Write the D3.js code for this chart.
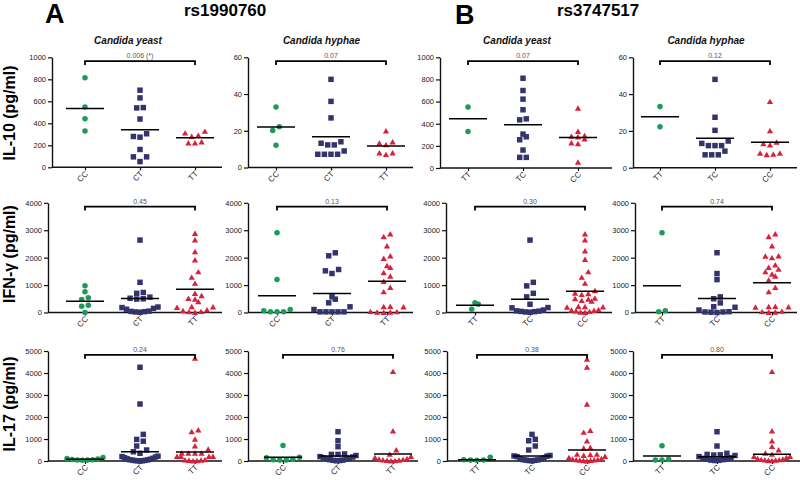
<!DOCTYPE html>
<html><head><meta charset="utf-8">
<script src="https://cdn.jsdelivr.net/npm/d3@7"></script>
<style>body{margin:0;background:#fff}svg{display:block;font-family:"Liberation Sans",Arial,sans-serif}</style>
</head><body><svg id="c" width="800" height="480"></svg>
<script>
// ---------- categories ----------
const genotypesA = ["CC", "CT", "TT"];   // rs1990760
const genotypesB = ["TT", "TC", "CC"];   // rs3747517
const stimuli = ["Candida yeast", "Candida hyphae"];
const cytokines = ["IL-10 (pg/ml)", "IFN-\u03b3 (pg/ml)", "IL-17 (pg/ml)"];
const pValues = ["0.006 (*)", "0.07", "0.07", "0.12", "0.45", "0.13", "0.30", "0.74", "0.24", "0.76", "0.38", "0.80"];
const il10Ticks = [0, 200, 400, 600, 800, 1000];
const il10HyTicks = [0, 20, 40, 60];
const ifnTicks = [0, 1000, 2000, 3000, 4000];
const il17Ticks = [0, 1000, 2000, 3000, 4000, 5000];

// ---------- values (per genotype group) ----------
const il10YeastA = [[814, 549, 442, 329], [701, 631, 540, 543, 439, 305, 274, 280, 162, 95, 95, 52], [326, 290, 280, 310, 220, 220, 230]];
const il10YeastAMean = [534, 341, 268];
const il10HyphaeA = [[33, 22.2, 20.2, 12.1], [48, 36, 27, 14, 12.3, 12.3, 13.2, 9, 7.2, 7.2, 7.2, 7.2], [19.8, 13.2, 12.3, 13.9, 7.9, 7, 7.9]];
const il10HyphaeAMean = [22, 16.8, 11.7];
const il10YeastB = [[550, 330], [811, 700, 622, 526, 444, 435, 306, 282, 255, 162, 96, 96], [540, 330, 279, 285, 291, 261, 225, 219, 51]];
const il10YeastBMean = [444, 390, 276];
const il10HyphaeB = [[33.2, 22.3], [48, 27.4, 20.3, 13.2, 12, 12, 12, 14.5, 9, 7, 7, 7], [35.9, 20, 13, 12.3, 13.8, 7.8, 7, 7.2, 7.8]];
const il10HyphaeBMean = [27.7, 16, 13.8];

const ifnYeastA = [[973, 754, 535, 474, 267, 231, 0],
  [2640, 1100, 730, 700, 560, 500, 490, 520, 180, 150, 200, 120, 30, 20, 40, 10, 50],
  [2880, 2640, 2210, 1910, 1480, 1280, 1060, 690, 610, 510, 480, 390, 210, 200, 180, 90, 60, 30, 20, 0]];
const ifnYeastAMean = [413, 510, 851];
const ifnHyphaeA = [[2906, 1204, 109, 24, 24, 24, 61],
  [2176, 2067, 1568, 1520, 1422, 571, 486, 353, 207, 109, 24, 24, 24, 24, 24],
  [2860, 2760, 2420, 2060, 1970, 1700, 1640, 1450, 1320, 1130, 910, 750, 210, 220, 200, 30, 20, 10, 0, 10]];
const ifnHyphaeAMean = [608, 693, 1143];
const ifnYeastB = [[353, 304, 122],
  [2640, 1100, 970, 700, 570, 300, 180, 170, 90, 60, 50, 40, 30, 20, 10],
  [2860, 2640, 2240, 1930, 1480, 1280, 1060, 790, 700, 680, 650, 520, 500, 480, 430, 410, 220, 210, 200, 190, 100, 80, 70, 50, 30, 10, 0]];
const ifnYeastBMean = [267, 486, 778];
const ifnHyphaeB = [[2906, 24, 61],
  [2180, 1420, 1200, 500, 570, 350, 210, 190, 90, 30, 20, 20, 10, 0],
  [2860, 2760, 2420, 2060, 1990, 2050, 1730, 1640, 1570, 1480, 1390, 1320, 1180, 910, 750, 210, 200, 220, 190, 40, 20, 10, 0]];
const ifnHyphaeBMean = [973, 510, 1082];

const il17YeastA = [[160, 110, 90, 70, 50, 40, 30, 60],
  [4260, 2590, 1210, 980, 900, 680, 500, 420, 350, 220, 200, 180, 150, 120, 100, 80, 60, 50, 40, 30, 20, 10, 10, 0],
  [4670, 1410, 1330, 985, 680, 530, 350, 350, 350, 350, 200, 200, 200, 200, 50, 40, 30, 20, 10, 0]];
const il17YeastAMean = [76, 424, 409];
const il17HyphaeA = [[700, 170, 150, 80, 60, 50, 40],
  [1330, 920, 650, 300, 300, 320, 250, 200, 180, 150, 120, 100, 80, 60, 40, 30, 20, 10],
  [4060, 1360, 500, 300, 200, 150, 100, 80, 60, 40, 30, 20, 10, 0]];
const il17HyphaeAMean = [167, 227, 318];
const il17YeastB = [[170, 50, 40, 30, 60],
  [1210, 985, 920, 680, 500, 250, 230, 220, 200, 150, 100, 80, 60, 50, 40, 30, 20, 10],
  [4620, 4260, 2580, 1380, 1300, 910, 580, 610, 300, 300, 280, 250, 200, 150, 100, 80, 60, 50, 40, 30, 20, 10, 0]];
const il17YeastBMean = [60, 227, 500];
const il17HyphaeB = [[697, 76, 45, 45],
  [1330, 680, 350, 300, 280, 270, 250, 200, 150, 120, 100, 80, 60, 40, 30, 20],
  [4060, 1360, 910, 650, 500, 350, 300, 200, 200, 150, 100, 80, 60, 50, 40, 30, 20, 10]];
const il17HyphaeBMean = [227, 197, 303];

// ---------- panel table ----------
const panelData = [
  [il10YeastA, il10YeastAMean, genotypesA, il10Ticks],
  [il10HyphaeA, il10HyphaeAMean, genotypesA, il10HyTicks],
  [il10YeastB, il10YeastBMean, genotypesB, il10Ticks],
  [il10HyphaeB, il10HyphaeBMean, genotypesB, il10HyTicks],
  [ifnYeastA, ifnYeastAMean, genotypesA, ifnTicks],
  [ifnHyphaeA, ifnHyphaeAMean, genotypesA, ifnTicks],
  [ifnYeastB, ifnYeastBMean, genotypesB, ifnTicks],
  [ifnHyphaeB, ifnHyphaeBMean, genotypesB, ifnTicks],
  [il17YeastA, il17YeastAMean, genotypesA, il17Ticks],
  [il17HyphaeA, il17HyphaeAMean, genotypesA, il17Ticks],
  [il17YeastB, il17YeastBMean, genotypesB, il17Ticks],
  [il17HyphaeB, il17HyphaeBMean, genotypesB, il17Ticks]
];

// ---------- layout (pixels) ----------
const layout = [
  {ax: 52, end: 222, c0: 85, top: 57.3, bot: 167.3},
  {ax: 248, end: 413, c0: 276, top: 57.3, bot: 167.5},
  {ax: 440, end: 612, c0: 468, top: 57.3, bot: 168},
  {ax: 633, end: 797, c0: 660, top: 57.3, bot: 167.7},
  {ax: 48, end: 222, c0: 85, top: 202.8, bot: 312.5},
  {ax: 248, end: 413, c0: 277, top: 202.8, bot: 312.5},
  {ax: 446, end: 612, c0: 475, top: 202.8, bot: 312.5},
  {ax: 635, end: 797, c0: 662, top: 202.8, bot: 312.5},
  {ax: 48, end: 222, c0: 85, top: 351, bot: 461},
  {ax: 248, end: 418, c0: 283, top: 351, bot: 461},
  {ax: 447, end: 605, c0: 477, top: 351, bot: 461},
  {ax: 633, end: 800, c0: 662, top: 351, bot: 461}
];
const colors = ["#1b9a5a", "#33336e", "#d7223c"];
const shapes = [d3.symbolCircle, d3.symbolSquare, d3.symbolTriangle];
const shapeSize = [24, 30, 17];

const svg = d3.select("#c");

// simple deterministic "column scatter" spreading of overlapping points
function swarm(values, y) {
  const pts = values.map(v => ({v, py: y(v)})).sort((a, b) => b.py - a.py);
  const groups = [];
  let g = null;
  for (const p of pts) {
    if (g && Math.abs(p.py - g[0].py) < 5.5) g.push(p);
    else { g = [p]; groups.push(g); }
  }
  groups.forEach(gr => {
    const n = gr.length;
    const sp = n > 1 ? Math.min(6.6, 36 / (n - 1)) : 0;
    // slot positions left-to-right, filled from the centre outwards
    const slots = d3.range(n).map(i => (i - (n - 1) / 2) * sp)
      .sort((a, b) => Math.abs(a) - Math.abs(b) || a - b);
    gr.forEach((p, i) => { p.dx = slots[i]; });
  });
  return pts;
}

panelData.forEach(([groups, means, cats, ticks], k) => {
  const L = layout[k];
  const x = d3.scalePoint().domain(cats).range([L.c0, L.c0 + 110]);
  const y = d3.scaleLinear().domain([0, d3.max(ticks)]).range([L.bot, L.top]);
  const g = svg.append("g");

  // y axis
  const ya = g.append("g").attr("transform", `translate(${L.ax},0)`)
    .call(d3.axisLeft(y).tickValues(ticks).tickSize(4).tickSizeOuter(0).tickPadding(2).tickFormat(d3.format("d")));
  ya.select(".domain").attr("stroke", "#111").attr("stroke-width", 1.4);
  ya.selectAll(".tick line").attr("stroke", "#111").attr("stroke-width", 1.2);
  ya.selectAll(".tick text").attr("font-size", 7.5).attr("fill", "#222").attr("font-family", "Liberation Sans, Arial");

  // x axis
  g.append("line").attr("x1", L.ax).attr("x2", L.end).attr("y1", L.bot).attr("y2", L.bot)
    .attr("stroke", "#111").attr("stroke-width", 1.4);
  const xa = g.append("g").attr("transform", `translate(0,${L.bot})`)
    .call(d3.axisBottom(x).tickSize(3).tickSizeOuter(0));
  xa.select(".domain").remove();
  xa.selectAll(".tick line").attr("stroke", "#111").attr("stroke-width", 1.2);
  xa.selectAll(".tick text").attr("font-size", 8).attr("fill", "#222")
    .attr("font-family", "Liberation Sans, Arial")
    .attr("text-anchor", "end").attr("dy", 0).attr("y", 0)
    .attr("transform", "translate(3,7) rotate(-45)");

  // points
  groups.forEach((vals, gi) => {
    const cx = x(cats[gi]);
    const pts = swarm(vals, y);
    g.selectAll(null).data(pts).enter().append("path")
      .attr("d", d3.symbol().type(shapes[gi]).size(shapeSize[gi]))
      .attr("transform", d => `translate(${cx + d.dx},${d.py + (gi === 2 ? 0.6 : 0)})`)
      .attr("fill", colors[gi]);
    g.append("line").attr("x1", cx - 19).attr("x2", cx + 19)
      .attr("y1", y(means[gi])).attr("y2", y(means[gi]))
      .attr("stroke", "#000").attr("stroke-width", 1.5);
  });

  // bracket
  const by = L.top + 3.8;
  const x0 = x(cats[0]), x2 = x(cats[2]);
  g.append("path").attr("d", `M${x0},${by + 4}V${by}H${x2}V${by + 4}`)
    .attr("fill", "none").attr("stroke", "#000").attr("stroke-width", 1.8);
  g.append("text").attr("x", (x0 + x2) / 2).attr("y", by - 3).attr("text-anchor", "middle")
    .attr("font-size", 7).attr("fill", "#555").text(pValues[k]);

  // title
  if (k < 4) {
    g.append("text").attr("x", (L.ax + L.end) / 2 - 9).attr("y", 44)
      .attr("text-anchor", "middle").attr("font-size", 10).attr("font-weight", "bold")
      .attr("font-style", "italic").attr("fill", "#111").text(stimuli[k % 2]);
  }
});

// row titles
[113, 254, 404].forEach((cy, i) => {
  svg.append("text").attr("transform", `translate(15,${cy}) rotate(-90)`)
    .attr("text-anchor", "middle").attr("font-size", 16).attr("font-weight", "bold")
    .attr("fill", "#000").text(cytokines[i]);
});

// panel letters and SNP titles
svg.append("text").attr("x", 45).attr("y", 23).attr("font-size", 27).attr("font-weight", "bold").text("A");
svg.append("text").attr("x", 455).attr("y", 24).attr("font-size", 27).attr("font-weight", "bold").text("B");
svg.append("text").attr("x", 184).attr("y", 16).attr("font-size", 17).attr("font-weight", "bold").text("rs1990760");
svg.append("text").attr("x", 557).attr("y", 16).attr("font-size", 17).attr("font-weight", "bold").text("rs3747517");
</script></body></html>
